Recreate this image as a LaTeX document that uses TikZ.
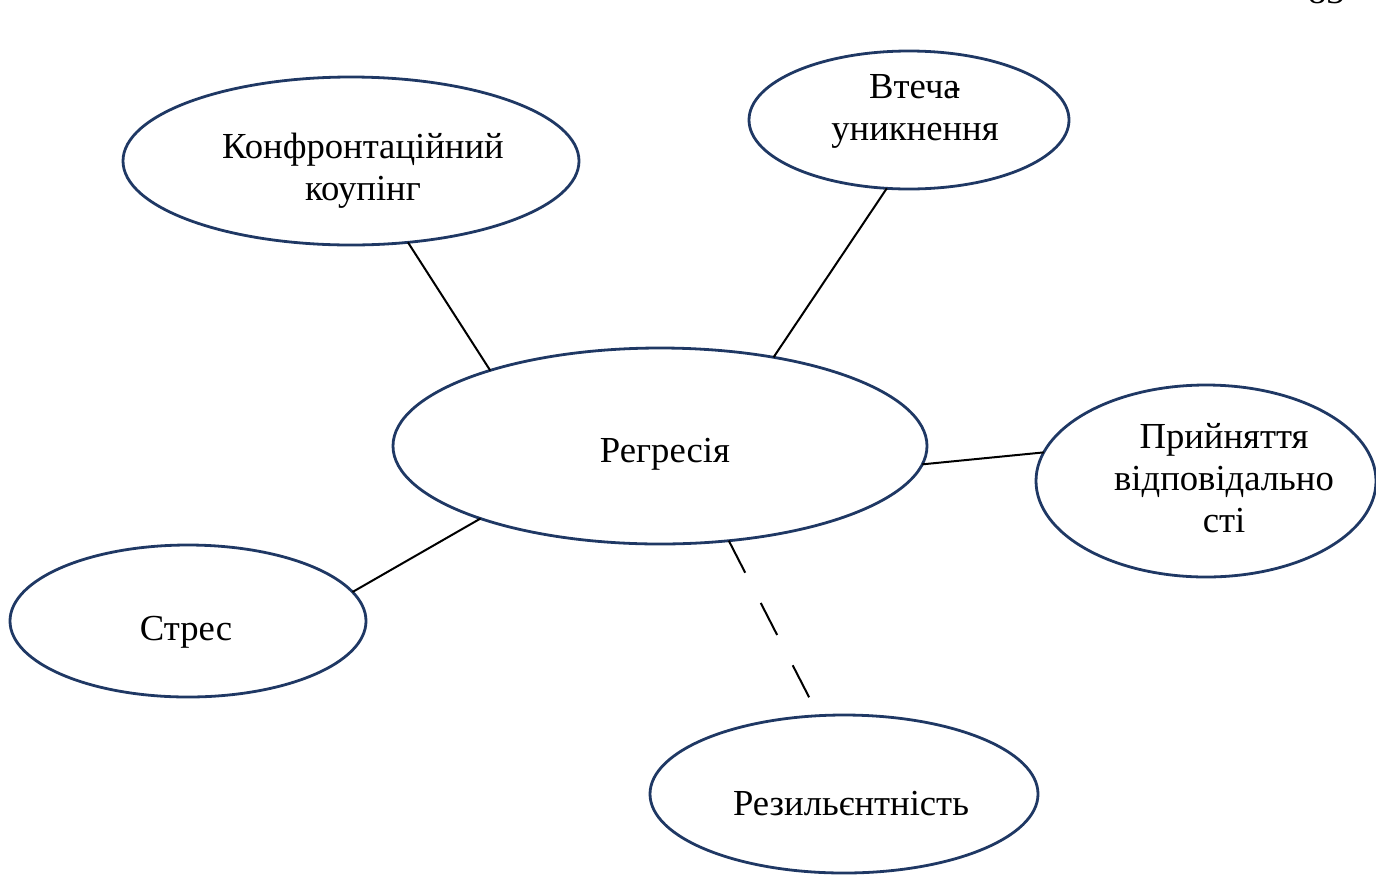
\documentclass[tikz,border=0pt]{standalone}
\usepackage{fontspec}
\setmainfont{Liberation Serif}
\usetikzlibrary{shapes.geometric}
\definecolor{rim}{HTML}{1F3864}
\begin{document}
\begin{tikzpicture}[x=0.75pt,y=-0.75pt,
  bubble/.style={ellipse,draw=rim,line width=2.1pt,inner sep=0pt,outer sep=0pt},
  caption/.style={font=\fontsize{27.5}{31.5}\selectfont,align=center,inner sep=0pt,anchor=base},
  link/.style={draw=black,line width=1.5pt}]
\useasboundingbox (0,0) rectangle (1376,875);

% ellipses
\node[bubble,minimum width=342pt,minimum height=126pt] (kon) at (351,161) {};
\node[bubble,minimum width=240pt,minimum height=103.5pt] (vte) at (909,120) {};
\node[bubble,minimum width=400.5pt,minimum height=147pt] (reg) at (660,446) {};
\node[bubble,minimum width=255pt,minimum height=144pt] (pry) at (1206,481) {};
\node[bubble,minimum width=267pt,minimum height=114pt] (str) at (188,621) {};
\node[bubble,minimum width=291pt,minimum height=118.5pt] (rez) at (844,794) {};

% captions (base anchor = baseline of the last line)
\node[caption] (kont) at (363,200) {Конфронтаційний\\коупінг};
\node[caption] (vtet) at (915,140) {Втеча\kern-0.3em-\\уникнення};
\node[caption] (regt) at (665,462) {Регресія};
\node[caption] (pryt) at (1224,532) {Прийняття\\відповідально\\сті};
\node[caption] (strt) at (186,640) {Стрес};
\node[caption] (rezt) at (851,815) {Резильєнтність};
\node[caption,anchor=base east] (page) at (1345,3) {83};

% connectors
\draw[link] (kon.-55.2) -- (reg.156.5);
\draw[link] (vte.-108.9) -- (reg.38.9);
\draw[link] (reg.-4.1) -- (pry.170.3);
\draw[link] (reg.-158.4) -- (str.10.8);
\draw[link,dash pattern=on 27pt off 25.5pt,shorten >=12pt] (reg.-54.6) -- (rez.108.8);
\end{tikzpicture}
\end{document}
